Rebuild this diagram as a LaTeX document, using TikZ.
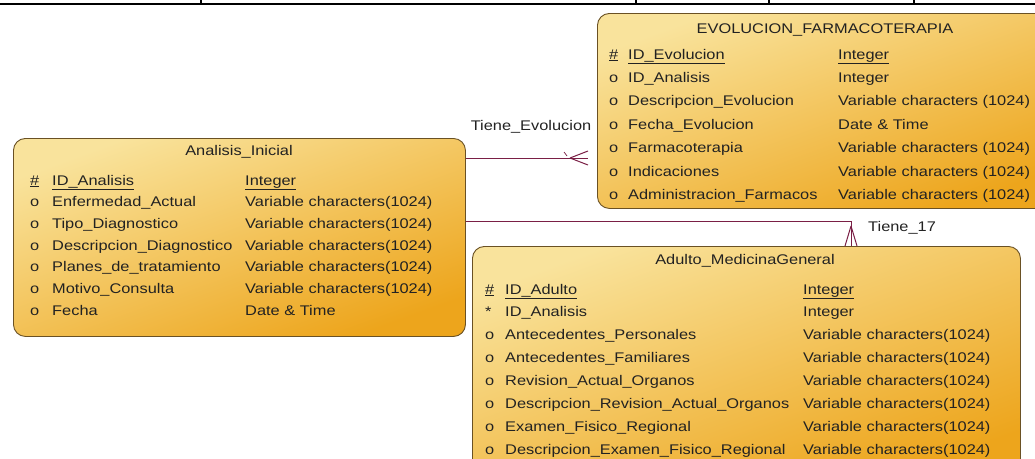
\documentclass[tikz,border=0pt]{standalone}
\usepackage{fontspec}
\setmainfont[FakeStretch=1.17]{Liberation Sans}
\usetikzlibrary{calc}

\definecolor{entborder}{HTML}{6A5124}
\definecolor{enttop}{HTML}{F9E39C}
\definecolor{entbottom}{HTML}{EDA51C}
\definecolor{reline}{HTML}{7A1F45}
\definecolor{txt}{HTML}{222222}

\tikzset{
	entity/.style={draw=entborder, line width=0.9pt, rounded corners=12pt, top color=enttop, bottom color=entbottom, shading angle=20, inner sep=0pt, anchor=north west},
	attr/.style={anchor=base west, inner sep=0pt, text=txt, font=\fontsize{14}{14}\selectfont},
	ttl/.style={inner sep=0pt, text=txt, font=\fontsize{14}{14}\selectfont},
	rel/.style={draw=reline, line width=1pt},
}

\begin{document}
\begin{tikzpicture}[x=1pt, y=-1pt]
	
	\useasboundingbox (0,0) rectangle (1035,458);
	\clip (0,0) rectangle (1035,458);
	
	% rule of the table above
	\draw[line width=2pt] (0,4) -- (1035,4);
	\foreach \x in {201,636,769,914}
		\draw[line width=1.2pt] (\x,0) -- (\x,4);
	
	% entities
	\node[entity, minimum width=452pt, minimum height=198pt] (ai) at (13,138) {};
	\node[entity, minimum width=460pt, minimum height=195pt] (evo) at (597,13) {};
	\node[entity, minimum width=548pt, minimum height=232pt] (adu) at (472,246) {};
	
	\node[ttl] (ai-ttl) at (239,152) {Analisis\_Inicial};
	\foreach \m/\n/\t [count=\i] in {
		{\underline{\#}}/{\underline{ID\_Analisis}}/{\underline{Integer}},
		o/Enfermedad\_Actual/Variable characters(1024),
		o/Tipo\_Diagnostico/Variable characters(1024),
		o/Descripcion\_Diagnostico/Variable characters(1024),
		o/Planes\_de\_tratamiento/Variable characters(1024),
		o/Motivo\_Consulta/Variable characters(1024),
		o/Fecha/Date \& Time}{
		\node[attr] (ai-m\i) at (30,{185+21.7*(\i-1)}) {\m};
		\node[attr] (ai-n\i) at (52,{185+21.7*(\i-1)}) {\n};
		\node[attr] (ai-t\i) at (245,{185+21.7*(\i-1)}) {\t};
	}
	
	\node[ttl] (evo-ttl) at (825,30) {EVOLUCION\_FARMACOTERAPIA};
	\foreach \m/\n/\t [count=\i] in {
		{\underline{\#}}/{\underline{ID\_Evolucion}}/{\underline{Integer}},
		o/ID\_Analisis/Integer,
		o/Descripcion\_Evolucion/Variable characters (1024),
		o/Fecha\_Evolucion/Date \& Time,
		o/Farmacoterapia/Variable characters (1024),
		o/Indicaciones/Variable characters (1024),
		o/Administracion\_Farmacos/Variable characters (1024)}{
		\node[attr] (evo-m\i) at (609,{59+23.4*(\i-1)}) {\m};
		\node[attr] (evo-n\i) at (628,{59+23.4*(\i-1)}) {\n};
		\node[attr] (evo-t\i) at (838,{59+23.4*(\i-1)}) {\t};
	}
	
	\node[ttl] (adu-ttl) at (745,261) {Adulto\_MedicinaGeneral};
	\foreach \m/\n/\t [count=\i] in {
		{\underline{\#}}/{\underline{ID\_Adulto}}/{\underline{Integer}},
		*/ID\_Analisis/Integer,
		o/Antecedentes\_Personales/Variable characters(1024),
		o/Antecedentes\_Familiares/Variable characters(1024),
		o/Revision\_Actual\_Organos/Variable characters(1024),
		o/Descripcion\_Revision\_Actual\_Organos/Variable characters(1024),
		o/Examen\_Fisico\_Regional/Variable characters(1024),
		o/Descripcion\_Examen\_Fisico\_Regional/Variable characters(1024)}{
		\node[attr] (adu-m\i) at (485,{294+22.9*(\i-1)}) {\m};
		\node[attr] (adu-n\i) at (505,{294+22.9*(\i-1)}) {\n};
		\node[attr] (adu-t\i) at (803,{294+22.9*(\i-1)}) {\t};
	}
	
	% relations
	\coordinate (y1) at (0,158);
	\coordinate (y2) at (0,221);
	\coordinate (x2) at (851,0);
	
	\coordinate (te-end) at ($(evo.west |- y1)+(-9,0)$);
	\coordinate (te-apex) at ($(te-end)+(-18,0)$);
	\draw[rel] (ai.east |- y1) -- (te-end);
	\draw[rel] (te-apex) -- ++(18,-7) (te-apex) -- ++(18,7);
	\draw[rel, line width=0.7pt] ($(te-apex)+(-6,-6)$) -- ++(3,4);
	\node[ttl] (te-lbl) at (531,127) {Tiene\_Evolucion};
	
	\draw[rel] (ai.east |- y2) -| (x2 |- adu.north);
	\draw[rel] ($(x2 |- adu.north)+(0,-20)$) -- ++(-6,20) ++(6,-20) -- ++(6,20);
	\node[ttl, anchor=west] (t17-lbl) at (868,228) {Tiene\_17};
	
\end{tikzpicture}
\end{document}
